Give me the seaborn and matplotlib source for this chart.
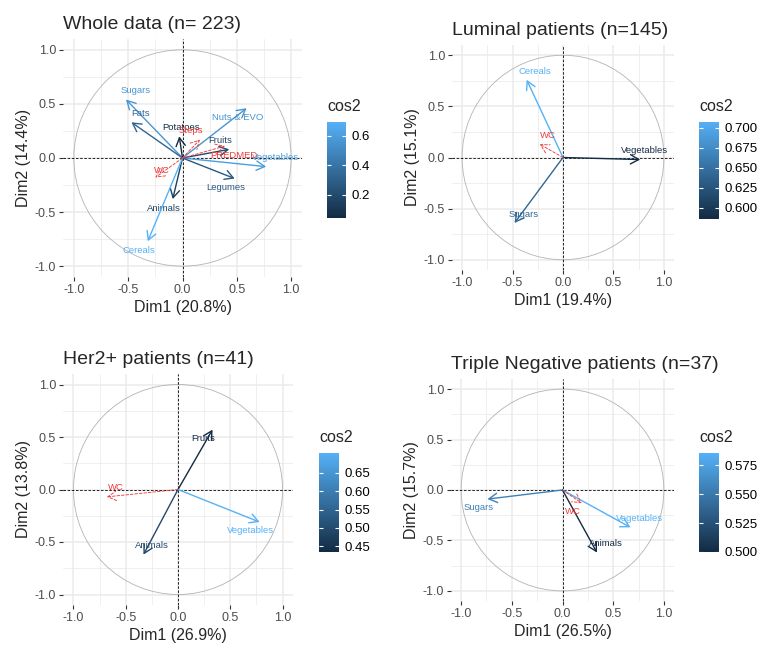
import numpy as np
import matplotlib
matplotlib.use("Agg")
import matplotlib.pyplot as plt
import seaborn as sns
from matplotlib.patches import Circle
from matplotlib.colors import Normalize

# %% DATA (variable coordinates on Dim1 / Dim2)

# whole data
whole_vars = ["Sugars", "Fats", "Potatoes", "Nuts & EVO", "Fruits",
              "Vegetables", "Legumes", "Animals", "Cereals"]
whole_dim1 = [-0.52, -0.47, -0.03, 0.59, 0.43, 0.77, 0.48, -0.09, -0.32]
whole_dim2 = [0.54, 0.33, 0.20, 0.46, 0.08, -0.08, -0.19, -0.38, -0.77]
whole_sup = ["Steps", "PREDMED", "WC"]
whole_sup_dim1 = [0.16, 0.39, -0.25]
whole_sup_dim2 = [0.17, 0.11, -0.18]

# luminal
lum_vars = ["Cereals", "Vegetables", "Sugars"]
lum_dim1 = [-0.36, 0.765, -0.48]
lum_dim2 = [0.76, -0.02, -0.64]
lum_sup = ["WC"]
lum_sup_dim1 = [-0.23]
lum_sup_dim2 = [0.13]

# her2+
her_vars = ["Fruits", "Animals", "Vegetables"]
her_dim1 = [0.33, -0.33, 0.78]
her_dim2 = [0.57, -0.62, -0.31]
her_sup = ["WC"]
her_sup_dim1 = [-0.68]
her_sup_dim2 = [-0.07]

# triple negative
tn_vars = ["Sugars", "Vegetables", "Animals"]
tn_dim1 = [-0.74, 0.67, 0.34]
tn_dim2 = [-0.09, -0.37, -0.62]
tn_sup = ["WC"]
tn_sup_dim1 = [0.19]
tn_sup_dim2 = [-0.13]

titles = ["Whole data (n= 223)", "Luminal patients (n=145)",
          "Her2+ patients (n=41)", "Triple Negative patients (n=37)"]
dim1_pct = [20.8, 19.4, 26.9, 26.5]
dim2_pct = [14.4, 15.1, 13.8, 15.7]

cb_ticks = [[0.2, 0.4, 0.6],
            [0.600, 0.625, 0.650, 0.675, 0.700],
            [0.45, 0.50, 0.55, 0.60, 0.65],
            [0.500, 0.525, 0.550, 0.575]]
cb_fmt = ["{:.1f}", "{:.3f}", "{:.2f}", "{:.3f}"]

# label jitter direction (factoextra places text slightly off the tip)
whole_jit = [(1, 1), (1, 1), (0.2, 1), (-1, -1), (-1, 1), (1, 1), (-1, -1), (-1, -1), (-1, -1)]
whole_sup_jit = [(-1, 1), (1, -1), (0.7, 0.8)]
lum_jit = [(1, 1), (0.5, 1), (1, 1)]
lum_sup_jit = [(1, 1)]
her_jit = [(-1, -1), (1, 1), (-1, -1)]
her_sup_jit = [(1, 1)]
tn_jit = [(-1, -1), (1, 1), (1, 1)]
tn_sup_jit = [(-1, -1)]

# %% STYLE
sns.set_theme(style="white")
plt.rcParams['font.family'] = ['Liberation Sans', 'DejaVu Sans']

cmap = sns.blend_palette(["#132B43", "#56B1F7"], as_cmap=True)
sup_col = "#F03B3B"
J = 0.085


def draw_panel(ax, cax, title, p1, p2, names, d1, d2, jit,
               sup, s1, s2, sjit, ticks, fmt):
    d1 = np.array(d1)
    d2 = np.array(d2)
    cos2 = d1**2 + d2**2
    norm = Normalize(cos2.min(), cos2.max())

    ax.set_xlim(-1.1, 1.1)
    ax.set_ylim(-1.1, 1.1)
    ax.set_xticks([-1, -0.5, 0, 0.5, 1])
    ax.set_yticks([-1, -0.5, 0, 0.5, 1])
    ax.set_xticks([-0.75, -0.25, 0.25, 0.75], minor=True)
    ax.set_yticks([-0.75, -0.25, 0.25, 0.75], minor=True)
    ax.xaxis.set_major_formatter(matplotlib.ticker.FormatStrFormatter('%.1f'))
    ax.yaxis.set_major_formatter(matplotlib.ticker.FormatStrFormatter('%.1f'))
    ax.grid(True, which='major', color='#EBEBEB', lw=1.1)
    ax.grid(True, which='minor', color='#EBEBEB', lw=0.55)
    ax.set_axisbelow(True)
    for s in ax.spines.values():
        s.set_visible(False)
    ax.tick_params(which='major', length=3, width=0.8, color='#333333',
                   labelsize=9, labelcolor='#4D4D4D', pad=2,
                   bottom=True, left=True)
    ax.tick_params(which='minor', length=0)

    ax.add_patch(Circle((0, 0), 1, fill=False, color='#B3B3B3', lw=0.6))
    ax.axhline(0, color='black', ls='--', lw=0.6, dashes=(3, 2))
    ax.axvline(0, color='black', ls='--', lw=0.6, dashes=(3, 2))

    for n, x, y, c, (jx, jy) in zip(names, d1, d2, cos2, jit):
        col = cmap(norm(c))
        ax.annotate("", xy=(x, y), xytext=(0, 0),
                    arrowprops=dict(arrowstyle="->,head_length=0.5,head_width=0.28",
                                    color=col, lw=1.0, shrinkA=0, shrinkB=0))
        ax.text(x + jx * J, y + jy * J, n, color=col, fontsize=6.8,
                ha='center', va='center')

    for n, x, y, (jx, jy) in zip(sup, s1, s2, sjit):
        ax.annotate("", xy=(x, y), xytext=(0, 0),
                    arrowprops=dict(arrowstyle="->,head_length=0.5,head_width=0.28",
                                    color=sup_col, lw=0.65, ls=(0, (3, 2)),
                                    shrinkA=0, shrinkB=0))
        ax.text(x + jx * J, y + jy * J, n, color=sup_col, fontsize=6.8,
                ha='center', va='center')

    ax.set_xlabel(f"Dim1 ({p1}%)", fontsize=11.5, labelpad=3)
    ax.set_ylabel(f"Dim2 ({p2}%)", fontsize=11.5, labelpad=3)
    ax.set_title(title, loc='left', fontsize=14, pad=7)

    # colour bar
    grad = np.linspace(cos2.min(), cos2.max(), 256).reshape(-1, 1)
    cax.imshow(grad, aspect='auto', cmap=cmap, origin='lower',
               extent=(0, 1, cos2.min(), cos2.max()))
    cax.set_xlim(0, 1)
    cax.set_ylim(cos2.min(), cos2.max())
    cax.hlines(ticks, 0, 0.2, color='white', lw=0.8)
    cax.hlines(ticks, 0.8, 1, color='white', lw=0.8)
    cax.set_xticks([])
    cax.yaxis.tick_right()
    cax.set_yticks(ticks)
    cax.set_yticklabels([fmt.format(t) for t in ticks])
    cax.tick_params(axis='y', length=0, labelsize=9.5, pad=4, labelcolor='black')
    for s in cax.spines.values():
        s.set_visible(False)
    cax.set_title("cos2", loc='left', fontsize=11.5, pad=8)


fig = plt.figure(figsize=(7.63, 6.5), dpi=100)

W, H = 763, 650


def box(l, t, r, b):
    return [l / W, 1 - b / H, (r - l) / W, (b - t) / H]


ax1 = fig.add_axes(box(63, 39, 302, 277))
ax2 = fig.add_axes(box(452, 45, 674, 270))
ax3 = fig.add_axes(box(63, 374, 293, 605))
ax4 = fig.add_axes(box(451, 379, 674, 601))
cax1 = fig.add_axes(box(327, 122, 346, 218))
cax2 = fig.add_axes(box(699, 122, 719, 219))
cax3 = fig.add_axes(box(319, 453, 339, 552))
cax4 = fig.add_axes(box(699, 453, 719, 552))

draw_panel(ax1, cax1, titles[0], dim1_pct[0], dim2_pct[0],
           whole_vars, whole_dim1, whole_dim2, whole_jit,
           whole_sup, whole_sup_dim1, whole_sup_dim2, whole_sup_jit,
           cb_ticks[0], cb_fmt[0])
draw_panel(ax2, cax2, titles[1], dim1_pct[1], dim2_pct[1],
           lum_vars, lum_dim1, lum_dim2, lum_jit,
           lum_sup, lum_sup_dim1, lum_sup_dim2, lum_sup_jit,
           cb_ticks[1], cb_fmt[1])
draw_panel(ax3, cax3, titles[2], dim1_pct[2], dim2_pct[2],
           her_vars, her_dim1, her_dim2, her_jit,
           her_sup, her_sup_dim1, her_sup_dim2, her_sup_jit,
           cb_ticks[2], cb_fmt[2])
draw_panel(ax4, cax4, titles[3], dim1_pct[3], dim2_pct[3],
           tn_vars, tn_dim1, tn_dim2, tn_jit,
           tn_sup, tn_sup_dim1, tn_sup_dim2, tn_sup_jit,
           cb_ticks[3], cb_fmt[3])

fig.savefig("out.png", dpi=100, facecolor='white')
